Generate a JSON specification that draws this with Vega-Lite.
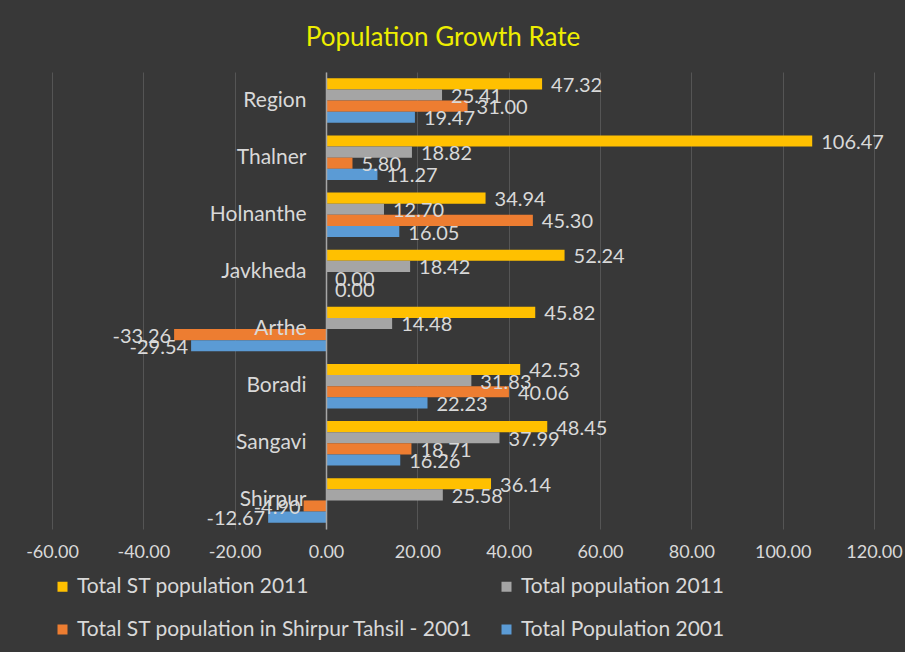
{
  "$schema": "https://vega.github.io/schema/vega-lite/v6.json",
  "width": 822,
  "height": 457,
  "autosize": {"type": "none"},
  "padding": {"left": 52, "top": 72, "right": 31, "bottom": 123},
  "background": "#383838",
  "title": {
    "text": "Population Growth Rate",
    "color": "#eeee00",
    "font": "Lato",
    "fontSize": 26,
    "fontWeight": "normal",
    "offset": 21,
    "dx": -20
  },
  "config": {
    "view": {"stroke": null},
    "font": "Lato"
  },
  "data": {
    "values": [
      {"place": "Region", "series": "Total ST population 2011", "value": 47.32},
      {"place": "Region", "series": "Total population 2011", "value": 25.41},
      {"place": "Region", "series": "Total ST population in Shirpur Tahsil - 2001", "value": 31.00},
      {"place": "Region", "series": "Total Population 2001", "value": 19.47},
      {"place": "Thalner", "series": "Total ST population 2011", "value": 106.47},
      {"place": "Thalner", "series": "Total population 2011", "value": 18.82},
      {"place": "Thalner", "series": "Total ST population in Shirpur Tahsil - 2001", "value": 5.80},
      {"place": "Thalner", "series": "Total Population 2001", "value": 11.27},
      {"place": "Holnanthe", "series": "Total ST population 2011", "value": 34.94},
      {"place": "Holnanthe", "series": "Total population 2011", "value": 12.70},
      {"place": "Holnanthe", "series": "Total ST population in Shirpur Tahsil - 2001", "value": 45.30},
      {"place": "Holnanthe", "series": "Total Population 2001", "value": 16.05},
      {"place": "Javkheda", "series": "Total ST population 2011", "value": 52.24},
      {"place": "Javkheda", "series": "Total population 2011", "value": 18.42},
      {"place": "Javkheda", "series": "Total ST population in Shirpur Tahsil - 2001", "value": 0.00},
      {"place": "Javkheda", "series": "Total Population 2001", "value": 0.00},
      {"place": "Arthe", "series": "Total ST population 2011", "value": 45.82},
      {"place": "Arthe", "series": "Total population 2011", "value": 14.48},
      {"place": "Arthe", "series": "Total ST population in Shirpur Tahsil - 2001", "value": -33.26},
      {"place": "Arthe", "series": "Total Population 2001", "value": -29.54},
      {"place": "Boradi", "series": "Total ST population 2011", "value": 42.53},
      {"place": "Boradi", "series": "Total population 2011", "value": 31.83},
      {"place": "Boradi", "series": "Total ST population in Shirpur Tahsil - 2001", "value": 40.06},
      {"place": "Boradi", "series": "Total Population 2001", "value": 22.23},
      {"place": "Sangavi", "series": "Total ST population 2011", "value": 48.45},
      {"place": "Sangavi", "series": "Total population 2011", "value": 37.99},
      {"place": "Sangavi", "series": "Total ST population in Shirpur Tahsil - 2001", "value": 18.71},
      {"place": "Sangavi", "series": "Total Population 2001", "value": 16.26},
      {"place": "Shirpur", "series": "Total ST population 2011", "value": 36.14},
      {"place": "Shirpur", "series": "Total population 2011", "value": 25.58},
      {"place": "Shirpur", "series": "Total ST population in Shirpur Tahsil - 2001", "value": -4.90},
      {"place": "Shirpur", "series": "Total Population 2001", "value": -12.67}
    ]
  },
  "transform": [
    {"calculate": "replace(format(datum.value, '.2f'), '\u2212', '-')", "as": "label"}
  ],
  "encoding": {
    "y": {
      "field": "place",
      "type": "nominal",
      "sort": ["Region", "Thalner", "Holnanthe", "Javkheda", "Arthe", "Boradi", "Sangavi", "Shirpur"],
      "scale": {"paddingInner": 0.22, "paddingOuter": 0.11},
      "axis": {
        "title": null,
        "offset": -274,
        "zindex": 1,
        "ticks": false,
        "domainColor": "#a6a6a6",
        "domainWidth": 1.5,
        "labelColor": "#d9d9d9",
        "labelFontSize": 21,
        "labelPadding": 20,
        "labelFont": "Lato"
      }
    },
    "yOffset": {
      "field": "series",
      "type": "nominal",
      "sort": ["Total ST population 2011", "Total population 2011", "Total ST population in Shirpur Tahsil - 2001", "Total Population 2001"],
      "scale": {"paddingInner": 0, "paddingOuter": 0}
    },
    "x": {
      "field": "value",
      "type": "quantitative",
      "scale": {"domain": [-60, 120], "nice": false},
      "axis": {
        "title": null,
        "values": [-60, -40, -20, 0, 20, 40, 60, 80, 100, 120],
        "labelExpr": "replace(format(datum.value, '.2f'), '\u2212', '-')",
        "labelFlush": false,
        "labelOverlap": false,
        "domain": false,
        "ticks": false,
        "gridColor": "#555555",
        "gridWidth": 1,
        "labelColor": "#d9d9d9",
        "labelFontSize": 18,
        "labelPadding": 14,
        "labelFont": "Lato"
      }
    }
  },
  "layer": [
    {
      "mark": {"type": "bar"},
      "encoding": {
        "color": {
          "field": "series",
          "type": "nominal",
          "sort": ["Total ST population 2011", "Total population 2011", "Total ST population in Shirpur Tahsil - 2001", "Total Population 2001"],
          "scale": {
            "domain": ["Total ST population 2011", "Total population 2011", "Total ST population in Shirpur Tahsil - 2001", "Total Population 2001"],
            "range": ["#FFC000", "#A5A5A5", "#ED7D31", "#5B9BD5"]
          },
          "legend": {
            "title": null,
            "orient": "bottom",
            "direction": "horizontal",
            "columns": 2,
            "columnPadding": 22,
            "rowPadding": 21,
            "offset": 15,
            "symbolType": "square",
            "symbolSize": 100,
            "symbolStrokeWidth": 0,
            "labelColor": "#d9d9d9",
            "labelFontSize": 21,
            "labelFont": "Lato",
            "labelLimit": 500,
            "labelOffset": 4
          }
        }
      }
    },
    {
      "transform": [{"filter": "datum.value >= 0"}],
      "mark": {"type": "text", "align": "left", "baseline": "middle", "dx": 9, "dy": 2, "fontSize": 20, "color": "#d9d9d9", "font": "Lato"},
      "encoding": {
        "text": {"field": "label", "type": "nominal"}
      }
    },
    {
      "transform": [{"filter": "datum.value < 0"}],
      "mark": {"type": "text", "align": "right", "baseline": "middle", "dx": -3, "dy": 2, "fontSize": 20, "color": "#d9d9d9", "font": "Lato"},
      "encoding": {
        "text": {"field": "label", "type": "nominal"}
      }
    }
  ]
}
